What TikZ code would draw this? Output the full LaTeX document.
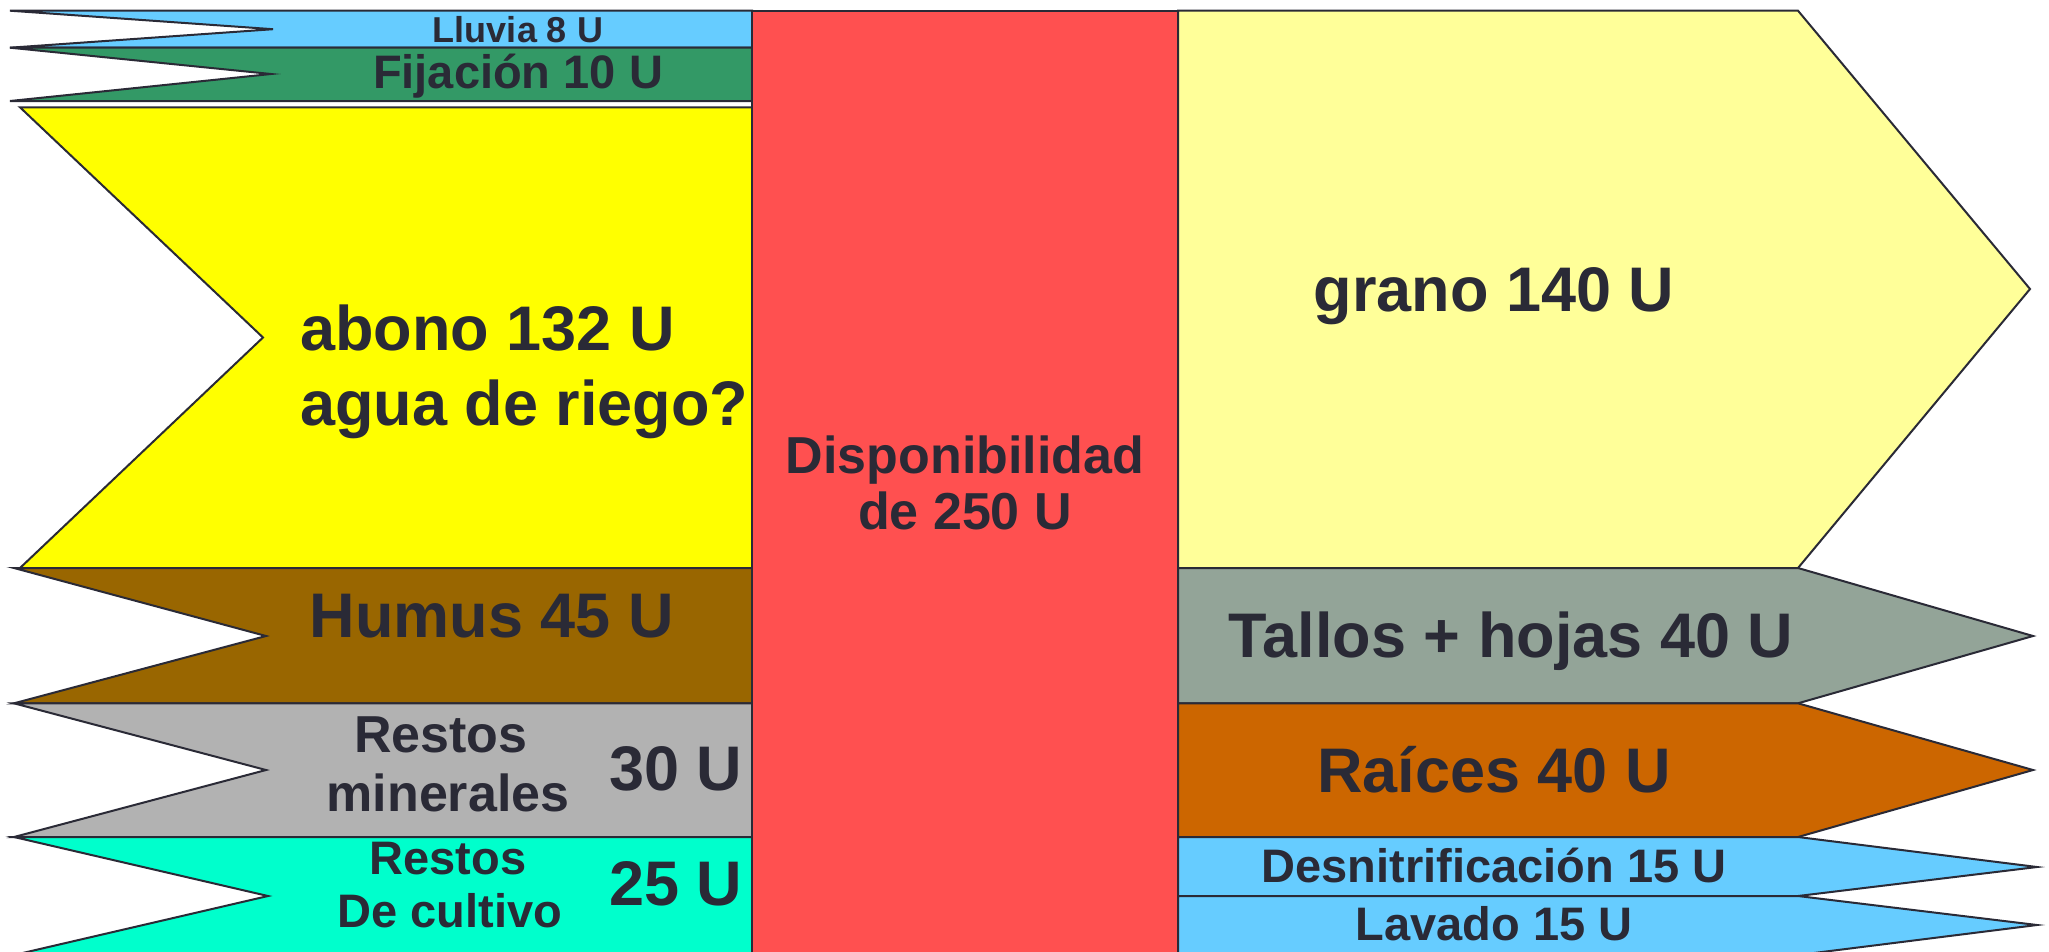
\documentclass[tikz,border=0pt]{standalone}
\usepackage{fontspec}
\setmainfont{Liberation Sans}
\definecolor{edge}{RGB}{42,42,54}
\definecolor{txt}{RGB}{42,42,54}
\definecolor{cLluvia}{HTML}{66CCFF}
\definecolor{cFij}{HTML}{339966}
\definecolor{cAbono}{HTML}{FFFF00}
\definecolor{cHumus}{HTML}{996600}
\definecolor{cMin}{HTML}{B2B2B2}
\definecolor{cCult}{HTML}{00FFCC}
\definecolor{cRed}{HTML}{FF5050}
\definecolor{cGrano}{HTML}{FFFF99}
\definecolor{cTallos}{HTML}{93A498}
\definecolor{cRaices}{HTML}{CC6600}
\newcommand\fsz[1]{\fontsize{#1}{#1}\selectfont}
\begin{document}
\begin{tikzpicture}[x=1pt,y=-1pt,
  band/.style={draw=edge,line width=2pt,line join=miter},
  lbl/.style={text=txt,inner sep=0pt,anchor=base,font=\bfseries\fsz{#1}},
  lbl/.default=63]
\useasboundingbox (0,0) rectangle (2049,951);
\clip (0,0) rectangle (2049,951);
% left bands
\path[band,fill=cLluvia] (10,10.7) -- (752,10.7) -- (752,47.7) -- (10,47.7) -- (273,29.2) -- cycle;
\path[band,fill=cFij] (10,47.7) -- (752,47.7) -- (752,101) -- (10,101) -- (271,74) -- cycle;
\path[band,fill=cAbono] (20,107.3) -- (752,107.3) -- (752,568) -- (20,568) -- (263,337.5) -- cycle;
\path[band,fill=cHumus] (14,568) -- (752,568) -- (752,703.3) -- (14,703.3) -- (266,636) -- cycle;
\path[band,fill=cMin] (14,703.3) -- (752,703.3) -- (752,837) -- (14,837) -- (266,770) -- cycle;
\path[band,fill=cCult] (14,837) -- (752,837) -- (752,955) -- (14,955) -- (268,896) -- cycle;
% right bands
\path[band,fill=cGrano] (1178,10.7) -- (1798,10.7) -- (2030,289) -- (1798,568) -- (1178,568) -- cycle;
\path[band,fill=cTallos] (1178,568) -- (1798,568) -- (2033,636) -- (1798,703.3) -- (1178,703.3) -- cycle;
\path[band,fill=cRaices] (1178,703.3) -- (1798,703.3) -- (2033,770) -- (1798,837) -- (1178,837) -- cycle;
\path[band,fill=cLluvia] (1178,837) -- (1798,837) -- (2037,867) -- (1798,896) -- (1178,896) -- cycle;
\path[band,fill=cLluvia] (1178,896) -- (1798,896) -- (2037,925) -- (1798,955) -- (1178,955) -- cycle;
% central column
\path[band,fill=cRed] (752,10.7) rectangle (1178,962);
% labels
\node[lbl=36] (lluvia) at (518,42.5) {Lluvia 8 U};
\node[lbl=47] (fij) at (518,88) {Fijación 10 U};
\node[lbl,anchor=base west] (abono) at (300,350) {abono 132 U};
\node[lbl,anchor=base west] (agua) at (300,425) {agua de riego?};
\node[lbl=52] (disp1) at (965,473) {Disponibilidad};
\node[lbl=52] (disp2) at (965,529) {de 250 U};
\node[lbl] (grano) at (1494,311) {grano 140 U};
\node[lbl] (humus) at (492,637) {Humus 45 U};
\node[lbl=52] (rmin1) at (441,752) {Restos};
\node[lbl=52] (rmin2) at (448,811) {minerales};
\node[lbl] (rmin3) at (676,790) {30 U};
\node[lbl=47] (rcul1) at (448,874) {Restos};
\node[lbl=47] (rcul2) at (450,927) {De cultivo};
\node[lbl] (rcul3) at (676,905) {25 U};
\node[lbl] (tallos) at (1511,657) {Tallos + hojas 40 U};
\node[lbl] (raices) at (1494,792) {Raíces 40 U};
\node[lbl=47] (desn) at (1494,882) {Desnitrificación 15 U};
\node[lbl=47] (lav) at (1494,940) {Lavado 15 U};
\end{tikzpicture}
\end{document}
